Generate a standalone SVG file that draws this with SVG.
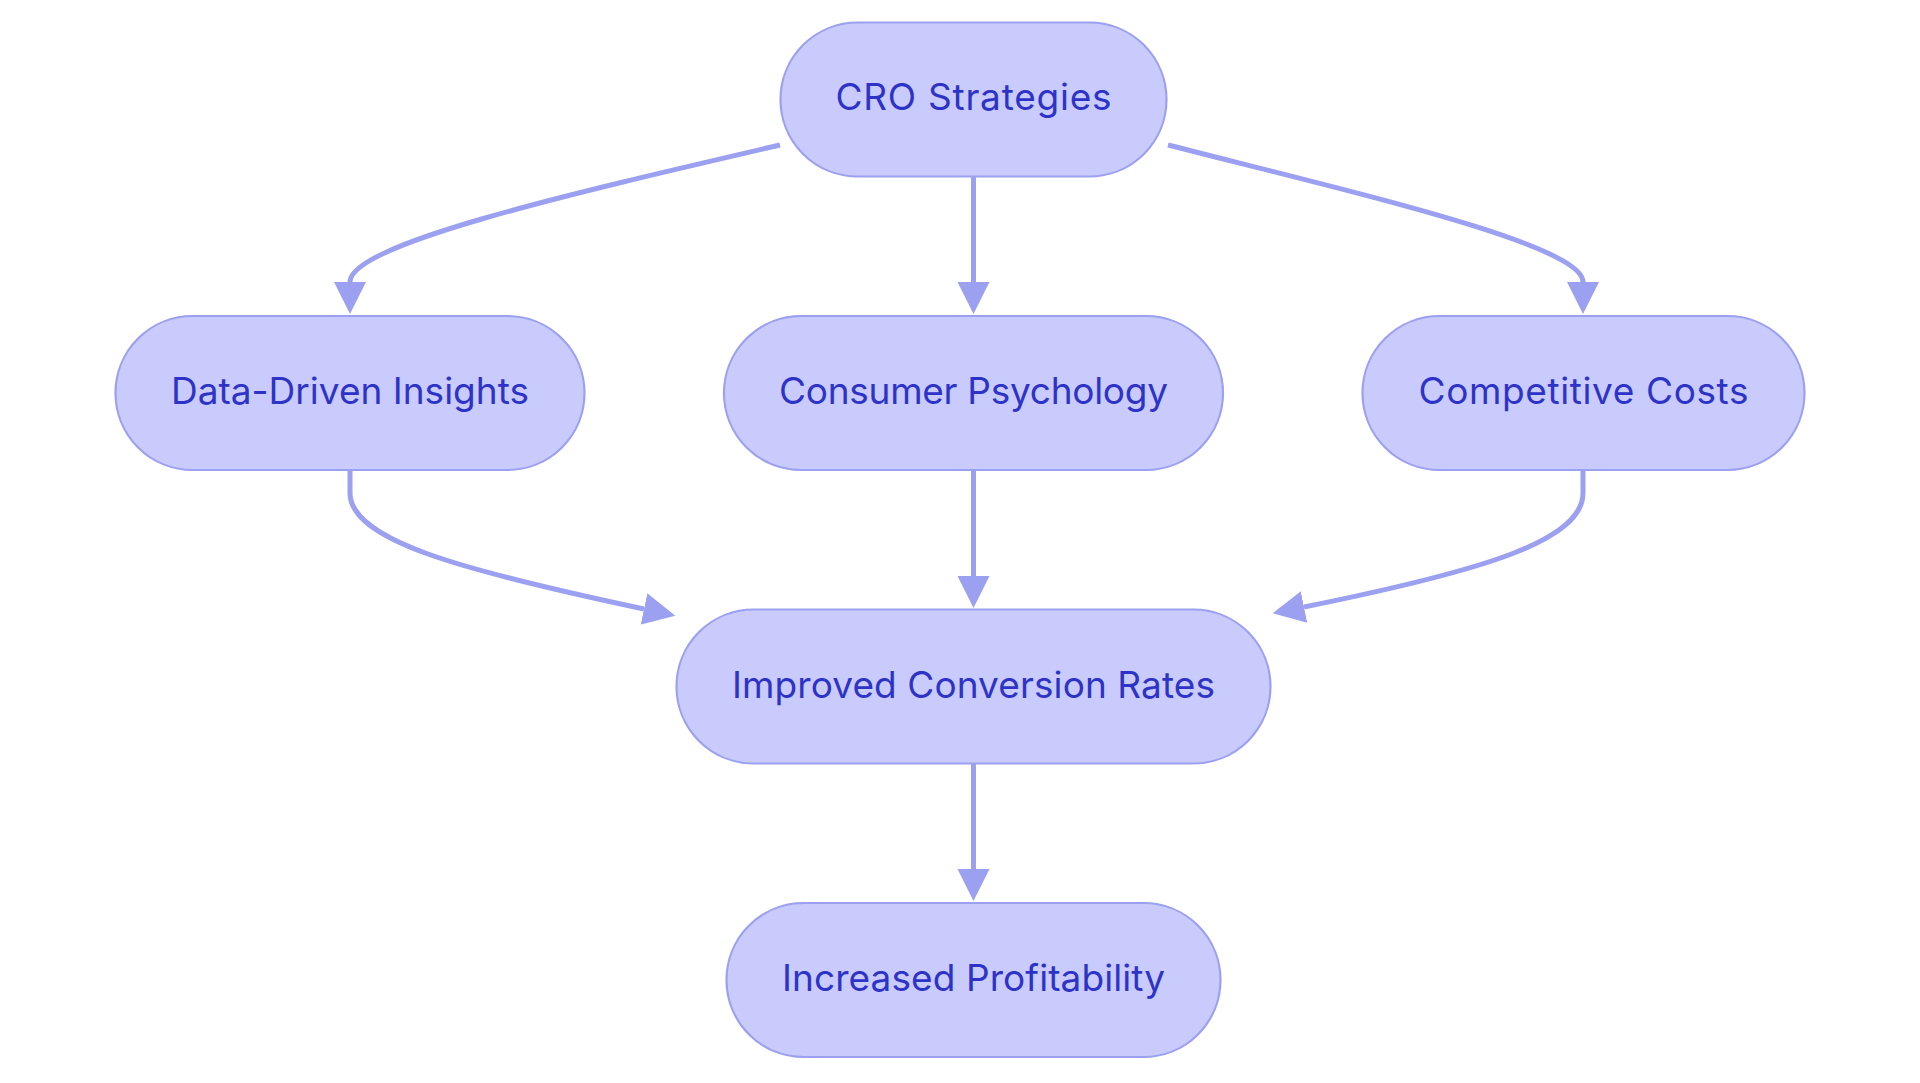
<svg xmlns="http://www.w3.org/2000/svg" width="1920" height="1083" viewBox="0 0 1920 1083">
<defs>
<style>
.node rect{fill:#c9cbfc;stroke:#9ca0f0;stroke-width:2.2}
.node text{font-family:Inter,"Noto Sans","Liberation Sans",sans-serif;font-size:37px;fill:#2e33c8;text-anchor:middle}
.edge{fill:none;stroke:#9ca0f0;stroke-width:5;marker-end:url(#arrow)}
</style>
<marker id="arrow" viewBox="0 0 10 10" refX="0" refY="5" markerWidth="32" markerHeight="32" markerUnits="userSpaceOnUse" orient="auto">
<path d="M0,0 L10,5 L0,10 z" fill="#9ca0f0"/>
</marker>
</defs>
<rect width="1920" height="1083" fill="#ffffff"/>
<g id="connectors">
<path class="edge" d="M780,145 C560,196 350,245 350,282"/>
<path class="edge" d="M973.5,176 L973.5,282"/>
<path class="edge" d="M1168,145 C1360,194 1583,245 1583,282"/>
<path class="edge" d="M350,470 L350,493 C350,540 460,570 644,609"/>
<path class="edge" d="M973.5,470 L973.5,576"/>
<path class="edge" d="M1583,470 L1583,493 C1583,540 1487,570 1304,607"/>
<path class="edge" d="M973.5,764 L973.5,869"/>
</g>
<g id="cro" class="node">
<rect x="780.5" y="22.5" width="386" height="154" rx="77"/>
<text x="973.5" y="110" textLength="276">CRO Strategies</text>
</g>
<g id="ddi" class="node">
<rect x="115.5" y="316" width="469" height="154" rx="77"/>
<text x="350" y="403.5" textLength="358">Data-Driven Insights</text>
</g>
<g id="cp" class="node">
<rect x="724" y="316" width="499" height="154" rx="77"/>
<text x="973.5" y="403.5" textLength="389">Consumer Psychology</text>
</g>
<g id="cc" class="node">
<rect x="1362.5" y="316" width="442" height="154" rx="77"/>
<text x="1583.5" y="403.5" textLength="330">Competitive Costs</text>
</g>
<g id="icr" class="node">
<rect x="676.5" y="609.5" width="594" height="154" rx="77"/>
<text x="973.5" y="697.5" textLength="483">Improved Conversion Rates</text>
</g>
<g id="ip" class="node">
<rect x="726.5" y="903" width="494" height="154" rx="77"/>
<text x="973.5" y="990.5" textLength="383">Increased Profitability</text>
</g>
</svg>
